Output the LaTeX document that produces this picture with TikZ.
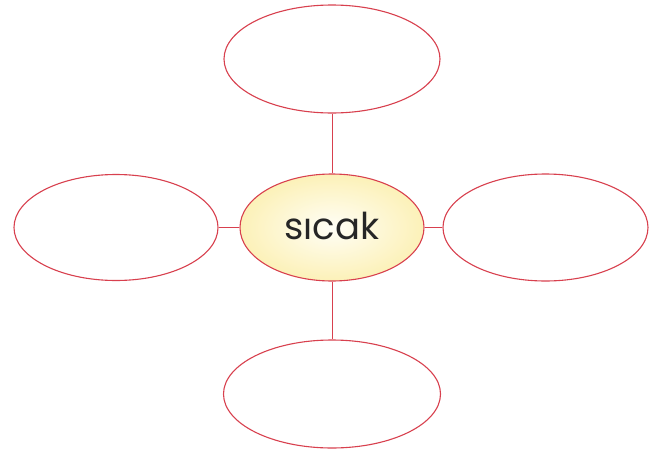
\documentclass[tikz,border=0pt]{standalone}
\usepackage{fontspec}
\newfontfamily\labelfont{Poppins}
\usetikzlibrary{shapes.geometric}
\definecolor{ringred}{HTML}{D8404E}
\definecolor{innercol}{HTML}{FFFEF6}
\definecolor{outercol}{HTML}{FCF1B8}
\definecolor{textcol}{HTML}{262626}
\tikzset{
  bubble/.style={ellipse, draw=ringred, line width=1.1pt, inner sep=0pt, fill=white},
  link/.style={draw=ringred, line width=1pt},
}
\begin{document}
\begin{tikzpicture}[x=1pt,y=-1pt]
\useasboundingbox (0,0) rectangle (670,450);
\node[bubble, minimum width=216pt, minimum height=108pt] (top) at (332,59) {};
\node[bubble, minimum width=204pt, minimum height=106pt] (left) at (116,227.5) {};
\node[bubble, minimum width=205pt, minimum height=107pt] (right) at (545.5,227.5) {};
\node[bubble, minimum width=217pt, minimum height=108pt] (bottom) at (332,394) {};
\node[bubble, minimum width=184pt, minimum height=107pt, inner color=innercol, outer color=outercol] (center) at (332,227.5) {};
\node[text=textcol, font=\labelfont\fontsize{37}{40}\selectfont] (lbl) at (332,226) {sıcak};
\draw[link] (top.south) -- (center.north);
\draw[link] (center.south) -- (bottom.north);
\draw[link] (left.east) -- (center.west);
\draw[link] (center.east) -- (right.west);
\end{tikzpicture}
\end{document}
